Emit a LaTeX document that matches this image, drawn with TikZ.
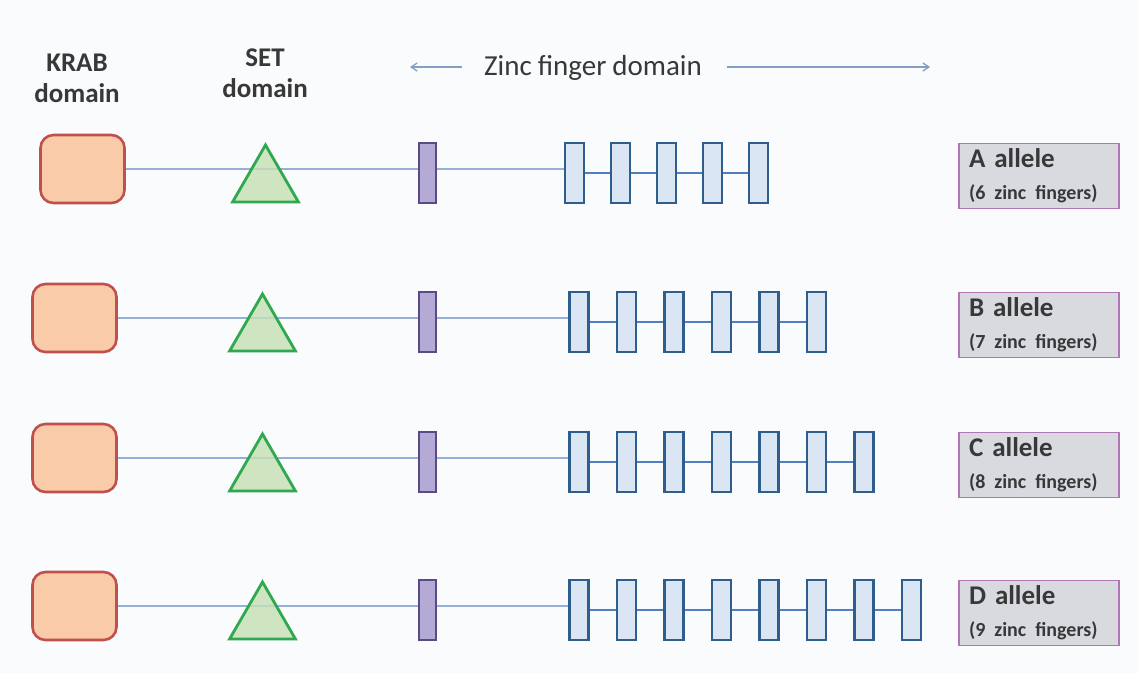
\documentclass[tikz,border=0pt]{standalone}
\usepackage{fontspec}
\setmainfont{Carlito}
\usetikzlibrary{shapes.geometric,arrows.meta,backgrounds}

\newcommand\tightspace[1]{\spaceskip #1\relax}

\definecolor{paper}{HTML}{FAFBFC}
\definecolor{ink}{HTML}{383838}
\definecolor{krabline}{HTML}{C0504D}
\definecolor{krabfill}{HTML}{F9CBA8}
\definecolor{setline}{HTML}{2FA84F}
\definecolor{setfill}{HTML}{C5E0B3}
\definecolor{purline}{HTML}{5B4A8A}
\definecolor{purfill}{HTML}{B5A9D6}
\definecolor{zfline}{HTML}{2F5E8C}
\definecolor{zffill}{HTML}{D5E3F2}
\definecolor{chain}{HTML}{94B0DA}
\definecolor{zfchain}{HTML}{4F7FBF}
\definecolor{boxline}{HTML}{B376B4}
\definecolor{boxfill}{HTML}{D9DADF}

\begin{document}
\begin{tikzpicture}[x=1pt,y=-1pt,
  krab/.style={draw=krabline,fill=krabfill,line width=2.6pt,rounded corners=13pt,minimum width=84pt,minimum height=68pt,inner sep=0pt},
  setdom/.style={regular polygon,regular polygon sides=3,draw=setline,fill=setfill,fill opacity=0.8,draw opacity=1,line width=2.8pt,minimum size=76pt,inner sep=0pt},
  purbox/.style={draw=purline,fill=purfill,line width=2pt,minimum width=17pt,minimum height=60pt,inner sep=0pt},
  zfbox/.style={draw=zfline,fill=zffill,fill opacity=0.85,draw opacity=1,line width=2.5pt,minimum width=19pt,minimum height=60pt,inner sep=0pt},
  allele/.style={draw=boxline,fill=boxfill,line width=1.5pt,minimum width=160pt,minimum height=65pt,text width=140pt,inner xsep=10pt,align=left,text=ink,font=\bfseries\fontsize{27}{30}\selectfont\tightspace{5pt}},
  head/.style={text=ink,align=center,font=\bfseries\fontsize{27}{31}\selectfont},
  chainline/.style={draw=chain,line width=2pt},
  zfline/.style={draw=zfchain,line width=1.8pt},
  zfarrow/.style={draw=chain!90!black,line width=1.3pt,-{Straight Barb[length=6pt,width=8pt]}}]

\begin{scope}[on background layer]
\fill [paper] (0,0) rectangle (1138,673);
\end{scope}

\node[head] (krabtitle) at (77,78) {KRAB\\domain};

\node[head] (settitle) at (265,73) {SET\\domain};

\node[text=ink,font=\fontsize{29}{32}\selectfont\tightspace{6pt}] (zinc) at (593,68) {Zinc finger domain};

\coordinate (zfleft) at (410,67);

\coordinate (zfright) at (930,67);

\draw [zfarrow,shorten <=19pt] (zinc.west |- zfleft) -- (zfleft);

\draw [zfarrow,shorten <=22pt] (zinc.east |- zfright) -- (zfright);

% one row per allele
\foreach \r/\y/\nz/\kx/\sx/\zx/\zp/\al/\fn in {1/169/5/82.5/265.5/574.5/46/A/6, 2/318/6/74.5/262.5/579/47.5/B/7, 3/458/7/74.5/262.5/579/47.5/C/8, 4/606/8/74.5/262.5/579/47.5/D/9}
{
  \node[krab] (krab\r) at (\kx,\y) {};
  \node[setdom] (set\r) at (\sx,\y+14) {};
  \node[purbox] (pur\r) at (427.5,\y+4) {};
  \foreach \i in {1,...,\nz}
    \node[zfbox] (zf\r-\i) at ({\zx+(\i-1)*\zp},\y+4) {};
  \node[allele] (allele\r) at (1039,\y+7) {\al{} allele\\[2pt]{\fontsize{20}{22}\selectfont (\fn{} zinc fingers)}};
  \begin{scope}[on background layer]
    \draw [chainline] (krab\r.east) -- (krab\r.east -| zf\r-1.west);
    \foreach \i in {2,...,\nz}
    {
      \pgfmathtruncatemacro\h{\i-1}
      \draw [zfline] (zf\r-\h.east) -- (zf\r-\i.west);
    }
  \end{scope}
}

\end{tikzpicture}
\end{document}
